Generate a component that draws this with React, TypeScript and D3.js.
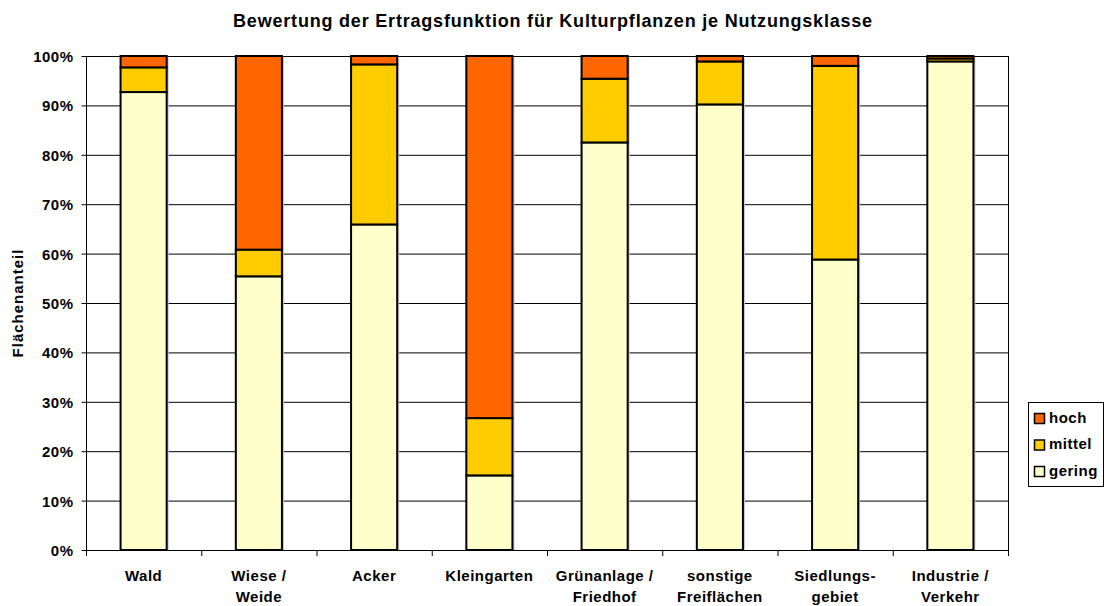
import React, { useEffect, useRef } from 'react';
import * as d3 from 'd3';

// Nutzungsklassen (x-Achse), mehrzeilige Beschriftung mit "\n"
const categories = [
  'Wald',
  'Wiese /\nWeide',
  'Acker',
  'Kleingarten',
  'Grünanlage /\nFriedhof',
  'sonstige\nFreiflächen',
  'Siedlungs-\ngebiet',
  'Industrie /\nVerkehr',
];

// Anteile in Prozent
const gering = [92.7, 55.4, 65.9, 15.1, 82.5, 90.2, 58.8, 98.9];
const mittel = [5.0, 5.4, 32.4, 11.6, 12.9, 8.7, 39.2, 0.6];
const hoch = [2.3, 39.2, 1.7, 73.3, 4.6, 1.1, 2.0, 0.5];

const seriesNames = ['gering', 'mittel', 'hoch'];
const seriesColors = ['#FFFFCC', '#FFCC00', '#FF6600'];
const yTicks = [0, 10, 20, 30, 40, 50, 60, 70, 80, 90, 100];

const W = 1105;
const H = 606;
const font = '"Liberation Sans", Arial, sans-serif';

export default function App() {
  const ref = useRef<SVGSVGElement>(null);

  useEffect(() => {
    const svg = d3.select(ref.current);
    svg.selectAll('*').remove();

    const left = 86, right = 1008, top = 56, bottom = 550;

    const x = d3.scaleBand<number>()
      .domain(d3.range(categories.length))
      .range([left, right])
      .paddingInner(0.6)
      .paddingOuter(0.3);

    const y = d3.scaleLinear().domain([0, 100]).range([bottom, top]);

    const rows = categories.map((c, i) => ({ i, gering: gering[i], mittel: mittel[i], hoch: hoch[i] }));
    const stacked = d3.stack<any>().keys(seriesNames)(rows);

    // Gitterlinien
    svg.append('g')
      .selectAll('line')
      .data(yTicks.slice(1))
      .join('line')
      .attr('x1', left).attr('x2', right)
      .attr('y1', d => y(d) + 0.5).attr('y2', d => y(d) + 0.5)
      .attr('stroke', '#000').attr('stroke-width', 1);

    // Plotrahmen rechts
    svg.append('line')
      .attr('x1', right + 0.5).attr('x2', right + 0.5)
      .attr('y1', top).attr('y2', bottom)
      .attr('stroke', '#000');

    // Schatten
    svg.append('g')
      .selectAll('rect')
      .data(rows)
      .join('rect')
      .attr('x', d => x(d.i)! + 2)
      .attr('y', y(100) + 2)
      .attr('width', x.bandwidth())
      .attr('height', y(0) - y(100) - 2)
      .attr('fill', '#c4c4c4');

    // Balken
    const layer = svg.append('g')
      .selectAll('g')
      .data(stacked)
      .join('g')
      .attr('fill', (d, i) => seriesColors[i]);

    layer.selectAll('rect')
      .data(d => d)
      .join('rect')
      .attr('x', (d: any) => x(d.data.i)!)
      .attr('y', d => y(d[1]))
      .attr('width', x.bandwidth())
      .attr('height', d => y(d[0]) - y(d[1]))
      .attr('stroke', '#000')
      .attr('stroke-width', 2);

    // y-Achse
    const yAxis = svg.append('g').attr('transform', `translate(${left + 0.5},0)`);
    yAxis.append('line').attr('y1', top).attr('y2', bottom).attr('stroke', '#000');
    yAxis.selectAll('.tk')
      .data(yTicks)
      .join('line')
      .attr('x1', -5).attr('x2', 0)
      .attr('y1', d => y(d) + 0.5).attr('y2', d => y(d) + 0.5)
      .attr('stroke', '#000');
    yAxis.selectAll('text')
      .data(yTicks)
      .join('text')
      .attr('x', -13)
      .attr('y', d => y(d) + 6)
      .attr('text-anchor', 'end')
      .attr('font-family', font)
      .attr('font-weight', 'bold')
      .attr('font-size', 15)
      .attr('letter-spacing', 0.5)
      .text(d => `${d}%`);

    // x-Achse
    const xAxis = svg.append('g');
    xAxis.append('line')
      .attr('x1', left).attr('x2', right)
      .attr('y1', bottom + 0.5).attr('y2', bottom + 0.5)
      .attr('stroke', '#000');
    const step = (right - left) / categories.length;
    xAxis.selectAll('.tk')
      .data(d3.range(categories.length + 1))
      .join('line')
      .attr('x1', d => left + d * step + 0.5).attr('x2', d => left + d * step + 0.5)
      .attr('y1', bottom).attr('y2', bottom + 6)
      .attr('stroke', '#000');
    xAxis.selectAll('text')
      .data(categories)
      .join('text')
      .attr('x', (d, i) => x(i)! + x.bandwidth() / 2)
      .attr('y', 581)
      .attr('text-anchor', 'middle')
      .attr('font-family', font)
      .attr('font-weight', 'bold')
      .attr('font-size', 15)
      .attr('letter-spacing', 0.5)
      .each(function (d) {
        d.split('\n').forEach((line, k) => {
          d3.select(this).append('tspan')
            .attr('x', d3.select(this).attr('x'))
            .attr('dy', k === 0 ? 0 : 21)
            .text(line);
        });
      });

    // Titel
    svg.append('text')
      .attr('x', 553).attr('y', 27)
      .attr('text-anchor', 'middle')
      .attr('font-family', font)
      .attr('font-weight', 'bold')
      .attr('font-size', 18)
      .attr('letter-spacing', 0.8)
      .text('Bewertung der Ertragsfunktion für Kulturpflanzen je Nutzungsklasse');

    // y-Achsentitel
    svg.append('text')
      .attr('transform', `translate(23,${(top + bottom) / 2}) rotate(-90)`)
      .attr('text-anchor', 'middle')
      .attr('font-family', font)
      .attr('font-weight', 'bold')
      .attr('font-size', 15)
      .attr('letter-spacing', 1)
      .text('Flächenanteil');

    // Legende
    const lg = svg.append('g');
    lg.append('rect')
      .attr('x', 1028.5).attr('y', 402.5)
      .attr('width', 75).attr('height', 84)
      .attr('fill', '#fff').attr('stroke', '#000');
    const legendOrder = [2, 1, 0];
    legendOrder.forEach((s, k) => {
      const top0 = 413.5 + k * 26.5;
      lg.append('rect')
        .attr('x', 1034.5).attr('y', top0)
        .attr('width', 10).attr('height', 10)
        .attr('fill', seriesColors[s])
        .attr('stroke', '#000').attr('stroke-width', 1.5);
      lg.append('text')
        .attr('x', 1049).attr('y', top0 + 9)
        .attr('font-family', font)
        .attr('font-weight', 'bold')
        .attr('font-size', 15)
        .attr('letter-spacing', 0.5)
        .text(seriesNames[s]);
    });
  }, []);

  return (
    <svg ref={ref} width={W} height={H} style={{ position: 'absolute', left: 0, top: 0, background: '#fff' }} />
  );
}
